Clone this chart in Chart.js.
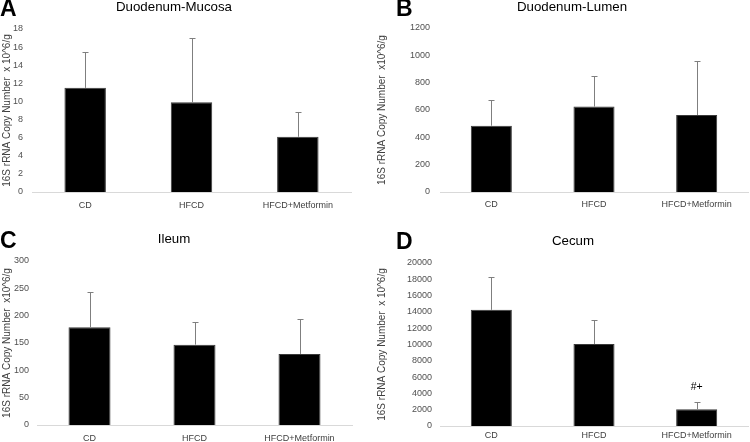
<!DOCTYPE html>
<html>
<head>
<meta charset="utf-8">
<script src="https://cdn.jsdelivr.net/npm/chart.js@4.4.0/dist/chart.umd.min.js"></script>
<style>
  body { margin: 0; background: #fff; }
  #wrap { position: relative; width: 750px; height: 442px; overflow: hidden; font-family: "Liberation Sans", Arial, sans-serif; }
  canvas { position: absolute; }
  .letter { position: absolute; font-weight: bold; font-size: 23px; line-height: 23px; color: #000; }
  .title { position: absolute; font-size: 13.3px; line-height: 14px; color: #000; transform: translateX(-50%); white-space: nowrap; }
</style>
</head>
<body>
<div id="wrap">
  <canvas id="chartA" width="375" height="221" style="left:0;top:0"></canvas>
  <canvas id="chartB" width="375" height="221" style="left:375px;top:0"></canvas>
  <canvas id="chartC" width="375" height="221" style="left:0;top:221px"></canvas>
  <canvas id="chartD" width="375" height="221" style="left:375px;top:221px"></canvas>
  <div class="letter" style="left:0;top:-3px">A</div>
  <div class="letter" style="left:396px;top:-3px">B</div>
  <div class="letter" style="left:0;top:229px">C</div>
  <div class="letter" style="left:396px;top:230px">D</div>
  <div class="title" style="left:174px;top:0">Duodenum-Mucosa</div>
  <div class="title" style="left:572px;top:0">Duodenum-Lumen</div>
  <div class="title" style="left:174px;top:232px">Ileum</div>
  <div class="title" style="left:573px;top:234px">Cecum</div>
</div>
<script>
const groups = ['CD', 'HFCD', 'HFCD+Metformin'];

// means and mean+SD (top of error bar)
const mucosaMean = [11.5, 9.9, 6.1];
const mucosaErr = [15.5, 17.0, 8.8];
const lumenMean = [485, 625, 563];
const lumenErr = [675, 850, 960];
const ileumMean = [179, 147, 130];
const ileumErr = [243, 188, 193];
const cecumMean = [14250, 10050, 2050];
const cecumErr = [18250, 13050, 2900];
const cecumMarks = ['', '', '#+'];

// Draw upward error bars and significance marks
const errorBarPlugin = {
  id: 'errorBars',
  afterDatasetsDraw(chart, args, opts) {
    const ctx = chart.ctx;
    const yScale = chart.scales.y;
    const meta = chart.getDatasetMeta(0);
    meta.data.forEach((bar, i) => {
      const yTop = yScale.getPixelForValue(opts.err[i]);
      const x = Math.round(bar.x) + 0.5;
      ctx.save();
      ctx.strokeStyle = '#7f7f7f';
      ctx.lineWidth = 1;
      ctx.beginPath();
      ctx.moveTo(x, bar.y);
      ctx.lineTo(x, Math.round(yTop) + 0.5);
      ctx.moveTo(x - 3, Math.round(yTop) + 0.5);
      ctx.lineTo(x + 3, Math.round(yTop) + 0.5);
      ctx.stroke();
      if (opts.marks && opts.marks[i]) {
        ctx.fillStyle = '#000';
        ctx.font = '10.5px "Liberation Sans", Arial, sans-serif';
        ctx.textAlign = 'center';
        ctx.textBaseline = 'middle';
        ctx.fillText(opts.marks[i], bar.x, yTop - 15);
      }
      ctx.restore();
    });
  }
};

function makePanel(id, means, errs, p) {
  return new Chart(document.getElementById(id), {
    type: 'bar',
    data: {
      labels: groups,
      datasets: [{
        data: means,
        backgroundColor: '#000',
        borderColor: '#3a3a3a',
        borderWidth: 1,
        categoryPercentage: 1,
        barPercentage: p.barPct
      }]
    },
    options: {
      responsive: false,
      animation: false,
      layout: { padding: { left: 0, right: p.right, top: p.top, bottom: 0 } },
      plugins: {
        legend: { display: false },
        tooltip: { enabled: false },
        errorBars: { err: errs, marks: p.marks }
      },
      scales: {
        x: {
          grid: { display: false, drawTicks: false },
          border: { color: '#d9d9d9', width: 1 },
          ticks: { color: '#404040', font: { size: 9, family: '"Liberation Sans", Arial' }, padding: p.xPad },
          afterFit: axis => { axis.height = p.bottom; }
        },
        y: {
          min: 0,
          max: p.max,
          grid: { display: false, drawTicks: false },
          border: { display: false },
          ticks: {
            stepSize: p.step,
            color: '#505050',
            font: { size: 9, family: '"Liberation Sans", Arial' },
            padding: p.yPad,
            callback: value => String(value)
          },
          title: {
            display: true,
            text: p.yTitle,
            color: '#404040',
            font: { size: 10, family: '"Liberation Sans", Arial' },
            padding: { top: 1, bottom: 0 }
          },
          afterFit: axis => { axis.width = p.left; }
        }
      }
    },
    plugins: [errorBarPlugin]
  });
}

makePanel('chartA', mucosaMean, mucosaErr, {
  max: 18, step: 2, left: 32, right: 24, top: 29, bottom: 29, xPad: 8, yPad: 9, barPct: 0.39,
  yTitle: '16S rRNA Copy Number  x 10^6/g'
});
makePanel('chartB', lumenMean, lumenErr, {
  max: 1200, step: 200, left: 65, right: 2, top: 28, bottom: 29, xPad: 7, yPad: 10, barPct: 0.4,
  yTitle: '16S rRNA Copy Number  x10^6/g'
});
makePanel('chartC', ileumMean, ileumErr, {
  max: 300, step: 50, left: 37, right: 23, top: 40, bottom: 17, xPad: 8, yPad: 8, barPct: 0.4,
  yTitle: '16S rRNA Copy Number  x10^6/g'
});
makePanel('chartD', cecumMean, cecumErr, {
  max: 20000, step: 2000, left: 65, right: 2, top: 42, bottom: 16, xPad: 4, yPad: 8, barPct: 0.4,
  yTitle: '16S rRNA Copy Number  x 10^6/g', marks: cecumMarks
});
</script>
</body>
</html>
